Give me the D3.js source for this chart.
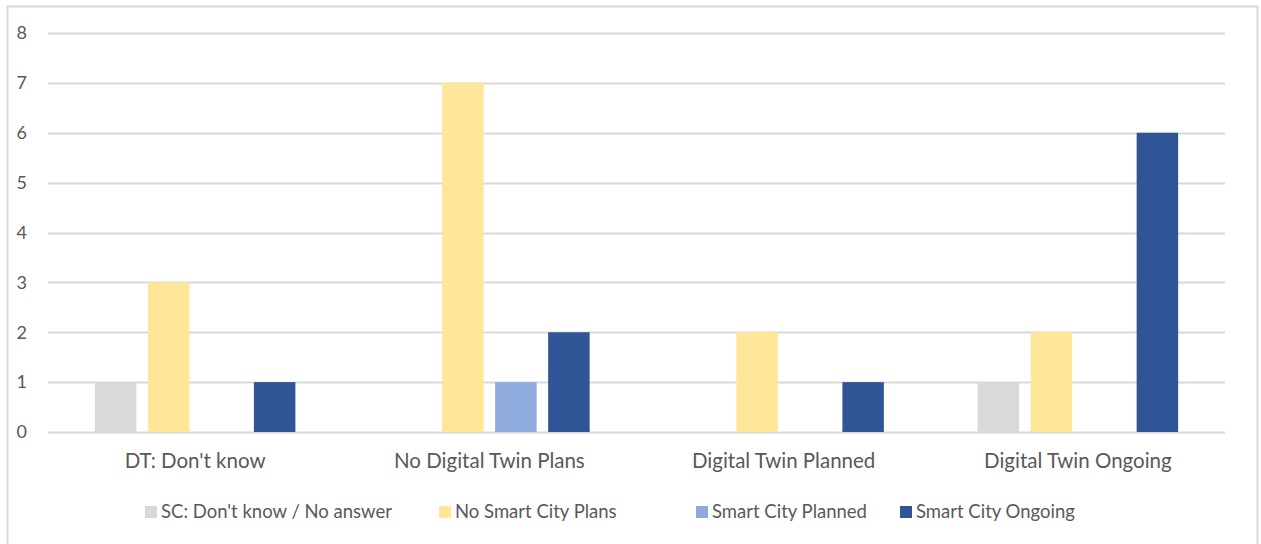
<!DOCTYPE html>
<html>
<head>
<meta charset="utf-8">
<script src="https://cdn.jsdelivr.net/npm/d3@7"></script>
<style>
  body { margin: 0; background: #fff; }
  text { font-family: Lato, "Liberation Sans", sans-serif; fill: #595959; }
</style>
</head>
<body>
<div id="chart"></div>
<script>
var categories = ["DT: Don't know", "No Digital Twin Plans", "Digital Twin Planned", "Digital Twin Ongoing"];
var series = ["SC: Don't know / No answer", "No Smart City Plans", "Smart City Planned", "Smart City Ongoing"];
var colors = ["#d9d9d9", "#ffe699", "#8faadc", "#2f5597"];
// values[series][category]
var values = [
  [1, 0, 0, 1],
  [3, 7, 2, 2],
  [0, 1, 0, 0],
  [1, 2, 1, 6]
];
var yTicks = [0, 1, 2, 3, 4, 5, 6, 7, 8];

var width = 1261, height = 544;
var margin = {left: 48, right: 36, top: 33, bottom: 112};

var svg = d3.select("#chart").append("svg")
  .attr("width", width)
  .attr("height", height);

// chart frame
svg.append("rect")
  .attr("x", 7.5).attr("y", 6.5)
  .attr("width", 1250).attr("height", 560)
  .attr("fill", "#fff")
  .attr("stroke", "#d9d9d9")
  .attr("stroke-width", 2);

var x0 = d3.scaleBand()
  .domain(categories)
  .range([margin.left, width - margin.right])
  .padding(0);

var x1 = d3.scaleBand()
  .domain(series)
  .range([0, x0.bandwidth()])
  .paddingInner(0.217)
  .paddingOuter(0.884);

var y = d3.scaleLinear()
  .domain([0, 8])
  .range([height - margin.bottom, margin.top]);

// gridlines
svg.append("g")
  .selectAll("line")
  .data(yTicks)
  .join("line")
  .attr("x1", margin.left)
  .attr("x2", width - margin.right)
  .attr("y1", d => Math.round(y(d)) + 0.5)
  .attr("y2", d => Math.round(y(d)) + 0.5)
  .attr("stroke", "#d9d9d9")
  .attr("stroke-width", 2);

// y labels
svg.append("g")
  .selectAll("text")
  .data(yTicks)
  .join("text")
  .attr("x", 27)
  .attr("y", d => y(d))
  .attr("dy", "0.35em")
  .attr("text-anchor", "end")
  .style("font-size", "18px")
  .text(d => d);

// bars
var groups = svg.append("g")
  .selectAll("g")
  .data(categories)
  .join("g")
  .attr("transform", d => "translate(" + x0(d) + ",0)");

groups.selectAll("rect")
  .data((c, ci) => series.map((s, si) => ({s: s, si: si, v: values[si][ci]})))
  .join("rect")
  .attr("x", d => x1(d.s))
  .attr("width", x1.bandwidth())
  .attr("y", d => y(d.v))
  .attr("height", d => y(0) - y(d.v))
  .attr("fill", d => colors[d.si]);

// category labels
svg.append("g")
  .selectAll("text")
  .data(categories)
  .join("text")
  .attr("x", d => x0(d) + x0.bandwidth() / 2)
  .attr("y", 468)
  .attr("text-anchor", "middle")
  .style("font-size", "20.5px")
  .text(d => d);

// legend
var legendX = [145, 439, 696, 900];
var legend = svg.append("g")
  .selectAll("g")
  .data(series)
  .join("g")
  .attr("transform", (d, i) => "translate(" + legendX[i] + ",512)");

legend.append("rect")
  .attr("x", 0).attr("y", -6)
  .attr("width", 12).attr("height", 12)
  .attr("fill", (d, i) => colors[i]);

legend.append("text")
  .attr("x", 16)
  .attr("dy", "0.35em")
  .style("font-size", "18.5px")
  .text(d => d);
</script>
</body>
</html>
